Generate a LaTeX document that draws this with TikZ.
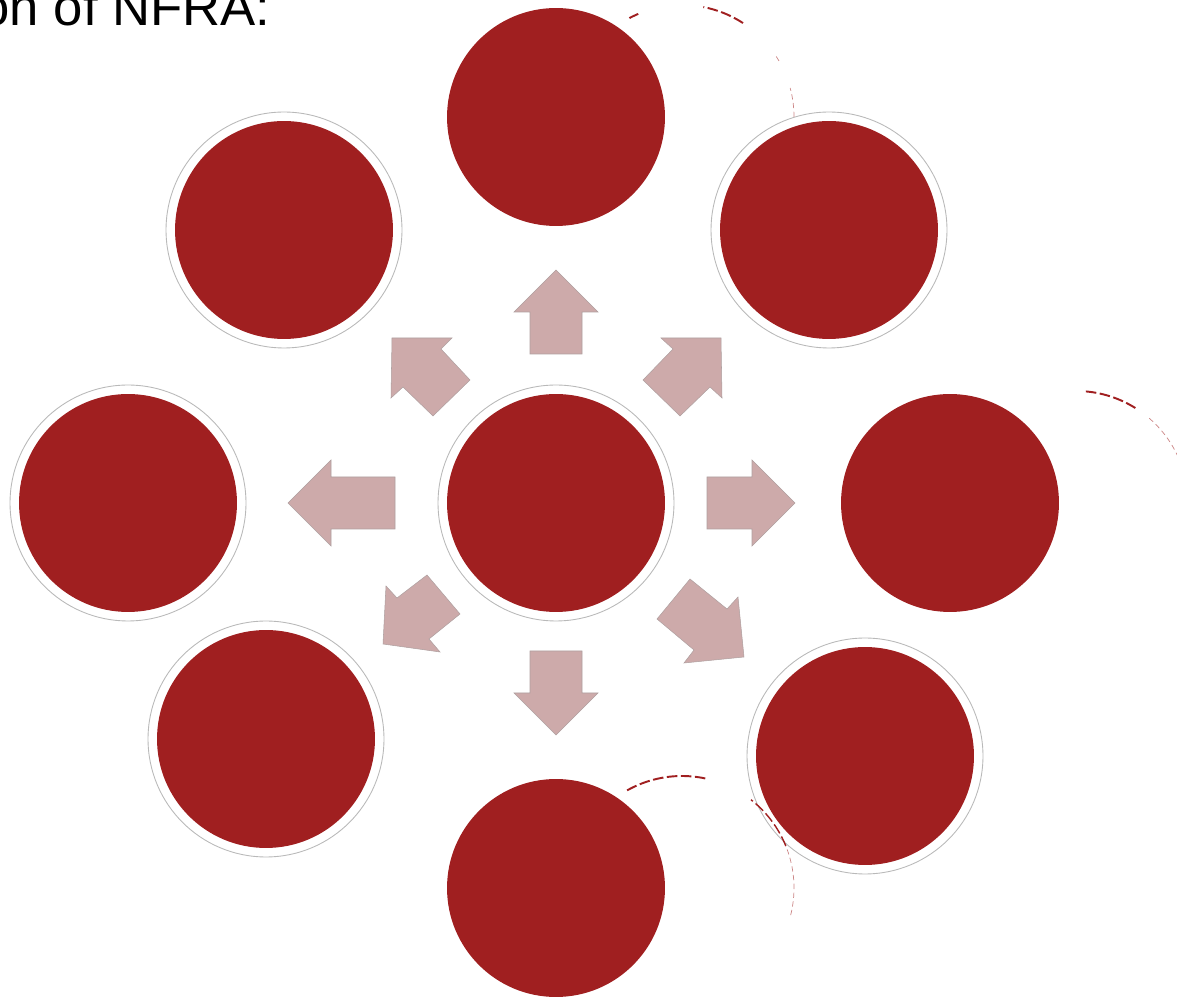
\documentclass[tikz,border=0pt]{standalone}
\usepackage{fontspec}
\setmainfont{Liberation Sans}
\definecolor{nfrared}{RGB}{160,31,32}
\definecolor{arrowpink}{RGB}{205,170,170}
\definecolor{arrowedge}{RGB}{175,160,160}
\definecolor{ringgray}{RGB}{185,185,185}
\tikzset{
  redc/.style={circle, fill=nfrared, minimum size=4.36cm, inner sep=0pt},
  ringc/.style={draw=ringgray, line width=0.5pt},
  blockarrow/.style={fill=arrowpink, draw=arrowedge, line width=0.3pt},
  ghost/.style={draw=nfrared, line width=1.1pt, dash pattern=on 6pt off 2pt},
  ghostfaint/.style={draw=nfrared!55, line width=0.4pt, dash pattern=on 3pt off 2pt},
}
\begin{document}
\begin{tikzpicture}[x=0.02cm, y=-0.02cm]
\useasboundingbox (0,0) rectangle (1177,999);
\clip (0,0) rectangle (1177,999);

% title fragment
\node[anchor=base east, inner sep=0pt, font=\fontsize{30}{34}\selectfont] (title) at (271,26) {on of NFRA:};

% circles
\node[redc] (ctr) at (556,503) {};
\node[redc] (top) at (556,117) {};
\node[redc] (tl)  at (284,230) {};
\node[redc] (tr)  at (829,230) {};
\node[redc] (lft) at (128,503) {};
\node[redc] (rgt) at (950,503) {};
\node[redc] (bl)  at (266,739) {};
\node[redc] (br)  at (865,756) {};
\node[redc] (bot) at (556,888) {};

% outer rings
\foreach \n in {ctr,tl,tr,lft,bl,br}
  \draw[ringc] (\n.center) circle (2.36cm);

% block arrows radiating from the centre
\draw[blockarrow] (556,270) -- (598,312) -- (582,312) -- (582,354) -- (530,354) -- (530,312) -- (514,312) -- cycle;
\draw[blockarrow] (556,735) -- (598,693) -- (582,693) -- (582,651) -- (530,651) -- (530,693) -- (514,693) -- cycle;
\draw[blockarrow] (795,503) -- (752,460) -- (752,477) -- (707,477) -- (707,529) -- (752,529) -- (752,546) -- cycle;
\draw[blockarrow] (288,503) -- (331,460) -- (331,477) -- (395,477) -- (395,529) -- (331,529) -- (331,546) -- cycle;
\draw[blockarrow] (392,338) -- (452,338) -- (441,349) -- (470,380) -- (433,416) -- (403,387) -- (391,398) -- cycle;
\draw[blockarrow] (721,338) -- (661,338) -- (673,349) -- (643,380) -- (680,416) -- (710,387) -- (722,398) -- cycle;
\draw[blockarrow] (383,644) -- (386,586) -- (397,598) -- (427,575) -- (460,614) -- (429,639) -- (440,652) -- cycle;
\draw[blockarrow] (744,657) -- (738,597) -- (727,609) -- (690,579) -- (657,619) -- (694,650) -- (684,663) -- cycle;

% broken outlines of shifted circles
\draw[ghost] plot[domain=113:118, samples=8] ({682+112*cos(\x)},{117-112*sin(\x)});
\draw[ghost] plot[domain=57:79, samples=20] ({682+112*cos(\x)},{117-112*sin(\x)});
\draw[ghostfaint] plot[domain=30:34, samples=6] ({682+112*cos(\x)},{117-112*sin(\x)});
\draw[ghostfaint] plot[domain=0:15, samples=12] ({682+112*cos(\x)},{117-112*sin(\x)});

\draw[ghost] plot[domain=58:86, samples=20] ({1076+112*cos(\x)},{503-112*sin(\x)});
\draw[ghostfaint] plot[domain=24:50, samples=20] ({1076+112*cos(\x)},{503-112*sin(\x)});

\draw[ghost] plot[domain=78:121, samples=25] ({682+112*cos(\x)},{888-112*sin(\x)});
\draw[ghost, line width=0.8pt] plot[domain=22:52, samples=20] ({682+112*cos(\x)},{888-112*sin(\x)});
\draw[ghostfaint] plot[domain=-14:22, samples=20] ({682+112*cos(\x)},{888-112*sin(\x)});
\end{tikzpicture}
\end{document}
